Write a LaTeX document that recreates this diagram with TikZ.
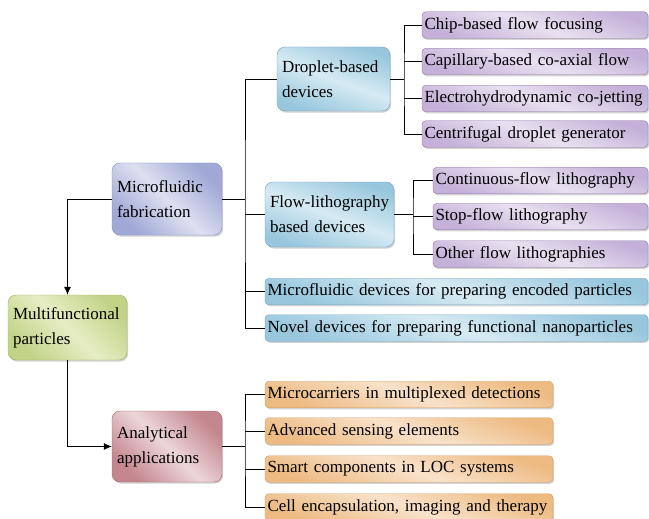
\documentclass[tikz,border=0pt]{standalone}
\usepackage{fontspec}
\setmainfont{Liberation Serif}
\usepackage{tikz}
\usetikzlibrary{arrows.meta,shadows}
\usepackage{xcolor}
\definecolor{mfA}{HTML}{A0A8D6}\definecolor{mfB}{HTML}{DDE0F0}\definecolor{mfD}{HTML}{8890C4}
\definecolor{mpA}{HTML}{C2D388}\definecolor{mpB}{HTML}{E6EDC4}\definecolor{mpD}{HTML}{9DB05E}
\definecolor{aaA}{HTML}{C4868F}\definecolor{aaB}{HTML}{ECD6D9}\definecolor{aaD}{HTML}{A8646E}
\definecolor{blA}{HTML}{98C7DD}\definecolor{blB}{HTML}{D6EAF3}\definecolor{blD}{HTML}{6FA3BF}
\definecolor{puA}{HTML}{C4B0D8}\definecolor{puB}{HTML}{E8E0F0}\definecolor{puD}{HTML}{8C73AA}
\definecolor{orA}{HTML}{EDBA82}\definecolor{orB}{HTML}{F8E2CA}\definecolor{orD}{HTML}{D19A5A}

\begin{document}
\begin{tikzpicture}[
  x=1pt,y=-1pt,
  box/.style={draw,rounded corners=8pt,align=left,inner xsep=5pt,inner ysep=0pt,
              font=\fontsize{17}{25}\selectfont,
              drop shadow={shadow xshift=1.2pt,shadow yshift=-1.6pt,opacity=0.35}},
  leaf/.style={box,rounded corners=4pt,inner xsep=2.5pt,minimum height=26.5pt},
  fillmf/.style={draw=mfD,left color=mfA,right color=mfA,middle color=mfB,shading angle=135},
  fillmp/.style={draw=mpD,left color=mpA,right color=mpA,middle color=mpB,shading angle=135},
  fillaa/.style={draw=aaD,left color=aaA,right color=aaA,middle color=aaB,shading angle=135},
  fillbl/.style={draw=blD,left color=blA,right color=blA,middle color=blB,shading angle=160},
  fillpu/.style={draw=puD,left color=puA,right color=puA,middle color=puB,shading angle=160},
  fillor/.style={draw=orD,left color=orA,right color=orA,middle color=orB,shading angle=160},
  line/.style={thick},
  arr/.style={-{Latex[length=8pt,width=7pt]},thick}
]
\useasboundingbox (0,0) rectangle (649,519);
% main column
\node[box,fillmf,text width=100pt,minimum height=72pt] (mf) at (167,199) {Microfluidic\\fabrication};
\node[box,fillmp,text width=109pt,minimum height=65pt] (mp) at (67.5,327.5) {Multifunctional\\particles};
\node[box,fillaa,text width=100pt,minimum height=71pt] (aa) at (167,446.5) {Analytical\\applications};
% fabrication branch
\node[box,fillbl,text width=103pt,minimum height=64pt] (dd) at (333.5,79) {Droplet-based\\devices};
\node[box,fillbl,text width=119pt,minimum height=65pt] (fl) at (329.5,214.5) {Flow-lithography\\based devices};
\node[leaf,fillbl,text width=378pt] (enc) at (456.5,291.5) {Microfluidic devices for preparing encoded particles};
\node[leaf,fillbl,text width=378pt] (nov) at (456.5,328) {Novel devices for preparing functional nanoparticles};
% droplet leaves
\node[leaf,fillpu,text width=221pt] (chip) at (535,25)  {Chip-based flow focusing};
\node[leaf,fillpu,text width=221pt] (cap)  at (535,61.5) {Capillary-based co-axial flow};
\node[leaf,fillpu,text width=221pt] (ele)  at (535,98.5) {Electrohydrodynamic co-jetting};
\node[leaf,fillpu,text width=221pt] (cen)  at (535,134) {Centrifugal droplet generator};
% lithography leaves
\node[leaf,fillpu,text width=210pt] (con) at (540.5,180.5) {Continuous-flow lithography};
\node[leaf,fillpu,text width=210pt] (stp) at (540.5,216.5) {Stop-flow lithography};
\node[leaf,fillpu,text width=210pt] (oth) at (540.5,254) {Other flow lithographies};
% application leaves
\node[leaf,fillor,text width=283pt] (mc)  at (409,394.5) {Microcarriers in multiplexed detections};
\node[leaf,fillor,text width=283pt] (adv) at (409,431) {Advanced sensing elements};
\node[leaf,fillor,text width=283pt] (sm)  at (409,469) {Smart components in LOC systems};
\node[leaf,fillor,text width=283pt] (cel) at (409,507) {Cell encapsulation, imaging and therapy};
% branching points
\coordinate (t1) at (245,199);
\coordinate (t2) at (404,79);
\coordinate (t3) at (413,214.5);
\coordinate (t4) at (245,446.5);
% connectors
\draw[arr] (mf.west) -| (mp.north);
\draw[arr] (mp.south) |- (aa.west);
\draw[line] (mf.east) -- (t1);
\draw[line] (dd.west) -| (t1) |- (nov.west);
\foreach \n in {fl,enc} \draw[line] (t1 |- \n.west) -- (\n.west);
\draw[line] (dd.east) -- (t2);
\draw[line] (chip.west) -| (t2) |- (cen.west);
\foreach \n in {cap,ele} \draw[line] (t2 |- \n.west) -- (\n.west);
\draw[line] (fl.east) -- (t3);
\draw[line] (con.west) -| (t3) |- (oth.west);
\draw[line] (t3 |- stp.west) -- (stp.west);
\draw[line] (aa.east) -- (t4);
\draw[line] (mc.west) -| (t4) |- (cel.west);
\foreach \n in {adv,sm} \draw[line] (t4 |- \n.west) -- (\n.west);
\end{tikzpicture}
\end{document}
